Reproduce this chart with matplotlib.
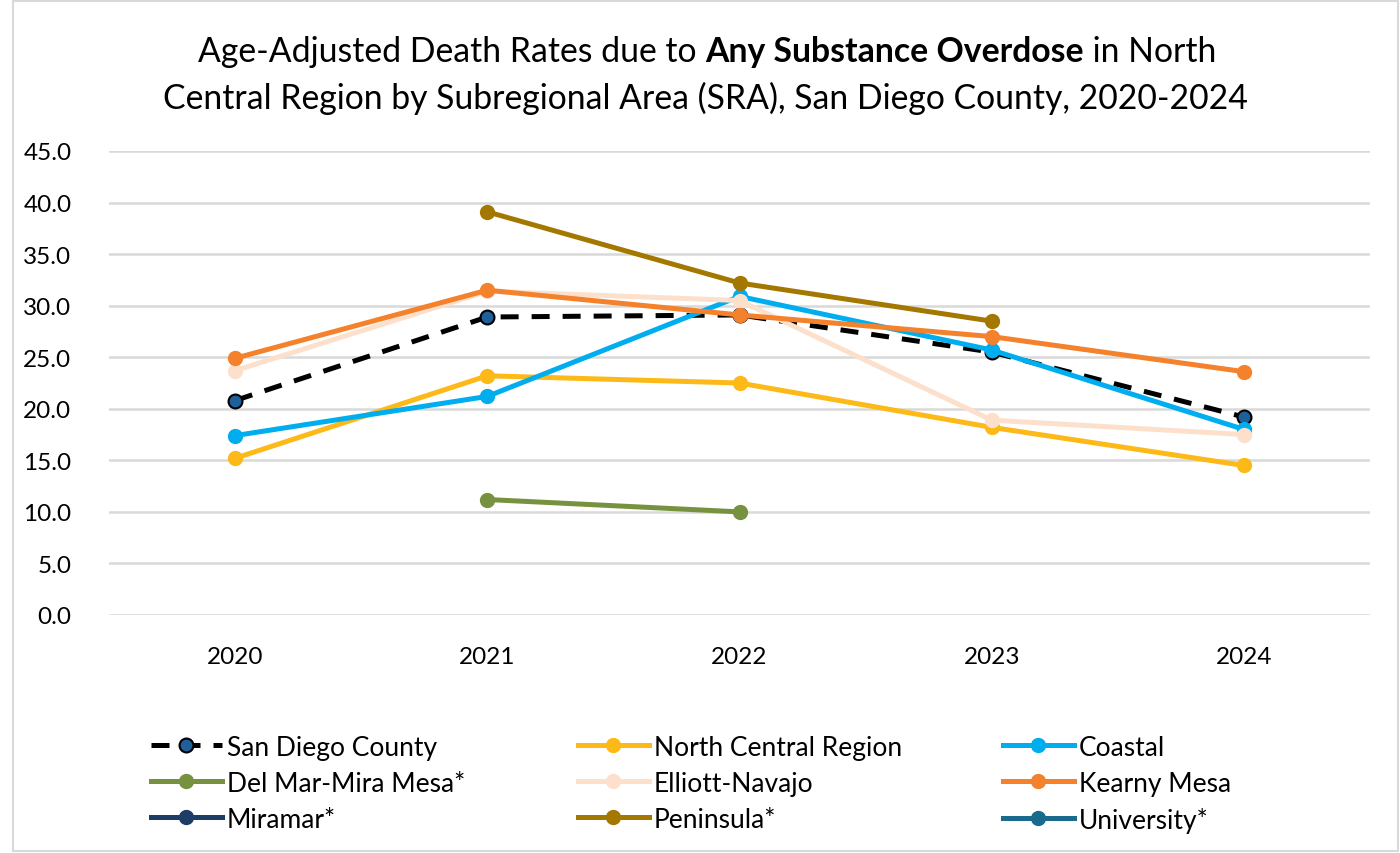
import numpy as np
import matplotlib
matplotlib.use("Agg")
import matplotlib.pyplot as plt
from matplotlib.patches import Rectangle

plt.rcParams['font.family'] = ['Lato', 'DejaVu Sans']

years = ['2020', '2021', '2022', '2023', '2024']
nan = np.nan

san_diego = [20.8, 28.9, 29.1, 25.5, 19.2]
north_central = [15.2, 23.2, 22.5, 18.2, 14.5]
coastal = [17.4, 21.2, 30.9, 25.7, 18.0]
del_mar = [nan, 11.2, 10.0, nan, nan]
elliott = [23.7, 31.4, 30.5, 18.9, 17.5]
kearny = [24.9, 31.5, 29.1, 27.0, 23.6]
miramar = [nan, nan, nan, nan, nan]
peninsula = [nan, 39.1, 32.2, 28.5, nan]
university = [nan, nan, nan, nan, nan]

series = [
    ('San Diego County', san_diego, 'black'),
    ('North Central Region', north_central, '#FDB918'),
    ('Coastal', coastal, '#00AEEF'),
    ('Del Mar-Mira Mesa*', del_mar, '#77923F'),
    ('Elliott-Navajo', elliott, '#FDE0CC'),
    ('Kearny Mesa', kearny, '#F4812B'),
    ('Miramar*', miramar, '#1B3D66'),
    ('Peninsula*', peninsula, '#A47800'),
    ('University*', university, '#1A6A8E'),
]

fig = plt.figure(figsize=(14, 8.54), dpi=100)
ax = fig.add_axes([109/1400, 1-616/854, (1370-109)/1400, (616-152)/854])
x = np.arange(len(years))

handles = []
for name, vals, col in series:
    if name == 'San Diego County':
        h, = ax.plot(x, vals, color='black', lw=3.6, ls=(0, (3.6, 2.6)),
                     marker='o', ms=10, mfc='#1F5F9A', mec='black', mew=1.5,
                     label=name, zorder=2)
    else:
        h, = ax.plot(x, vals, color=col, lw=3.6, marker='o', ms=10,
                     mfc=col, mec=col, label=name, zorder=3)
    handles.append(h)

ax.set_xlim(-0.5, 4.5)
ax.set_ylim(0, 45)
ax.set_yticks(np.arange(0, 46, 5))
ax.set_yticklabels([f'{v:.1f}' for v in np.arange(0, 46, 5)])
ax.set_xticks(x)
ax.set_xticklabels(years)
ax.tick_params(axis='both', length=0, labelsize=17.5, colors='black')
ax.tick_params(axis='y', pad=27)
ax.tick_params(axis='x', pad=22)
ax.grid(axis='y', color='#D9D9D9', lw=1.8)
ax.set_axisbelow(True)
for s in ax.spines.values():
    s.set_visible(False)

# title with bold part
fig.canvas.draw()
r = fig.canvas.get_renderer()
parts = [('Age-Adjusted Death Rates due to ', 'normal'),
         ('Any Substance Overdose', 'bold'),
         (' in North', 'normal')]
txts = [fig.text(0, 1-62/854, p, fontsize=24.3, fontweight=w, va='baseline')
        for p, w in parts]
widths = [t.get_window_extent(r).width for t in txts]
xpos = 707 - sum(widths) / 2
for t, w in zip(txts, widths):
    t.set_x(xpos / 1400)
    xpos += w
fig.text(705/1400, 1-109/854,
         'Central Region by Subregional Area (SRA), San Diego County, 2020-2024',
         fontsize=24.3, ha='center', va='baseline')

# legend in three fixed columns
col_x = [140, 567, 992]
for i, cx in enumerate(col_x):
    hs = handles[i::3]
    fig.legend(handles=hs, loc='upper left',
               bbox_to_anchor=(cx/1400, 1-725/854), ncol=1, frameon=False,
               fontsize=19, handlelength=2.7, handletextpad=0.18,
               labelspacing=0.42, borderaxespad=0)

fig.patches.append(Rectangle((13/1400, 2/854), 1385/1400, 850/854,
                             transform=fig.transFigure, fill=False,
                             ec='#D9D9D9', lw=1.5))

fig.savefig('out.png', dpi=100)
